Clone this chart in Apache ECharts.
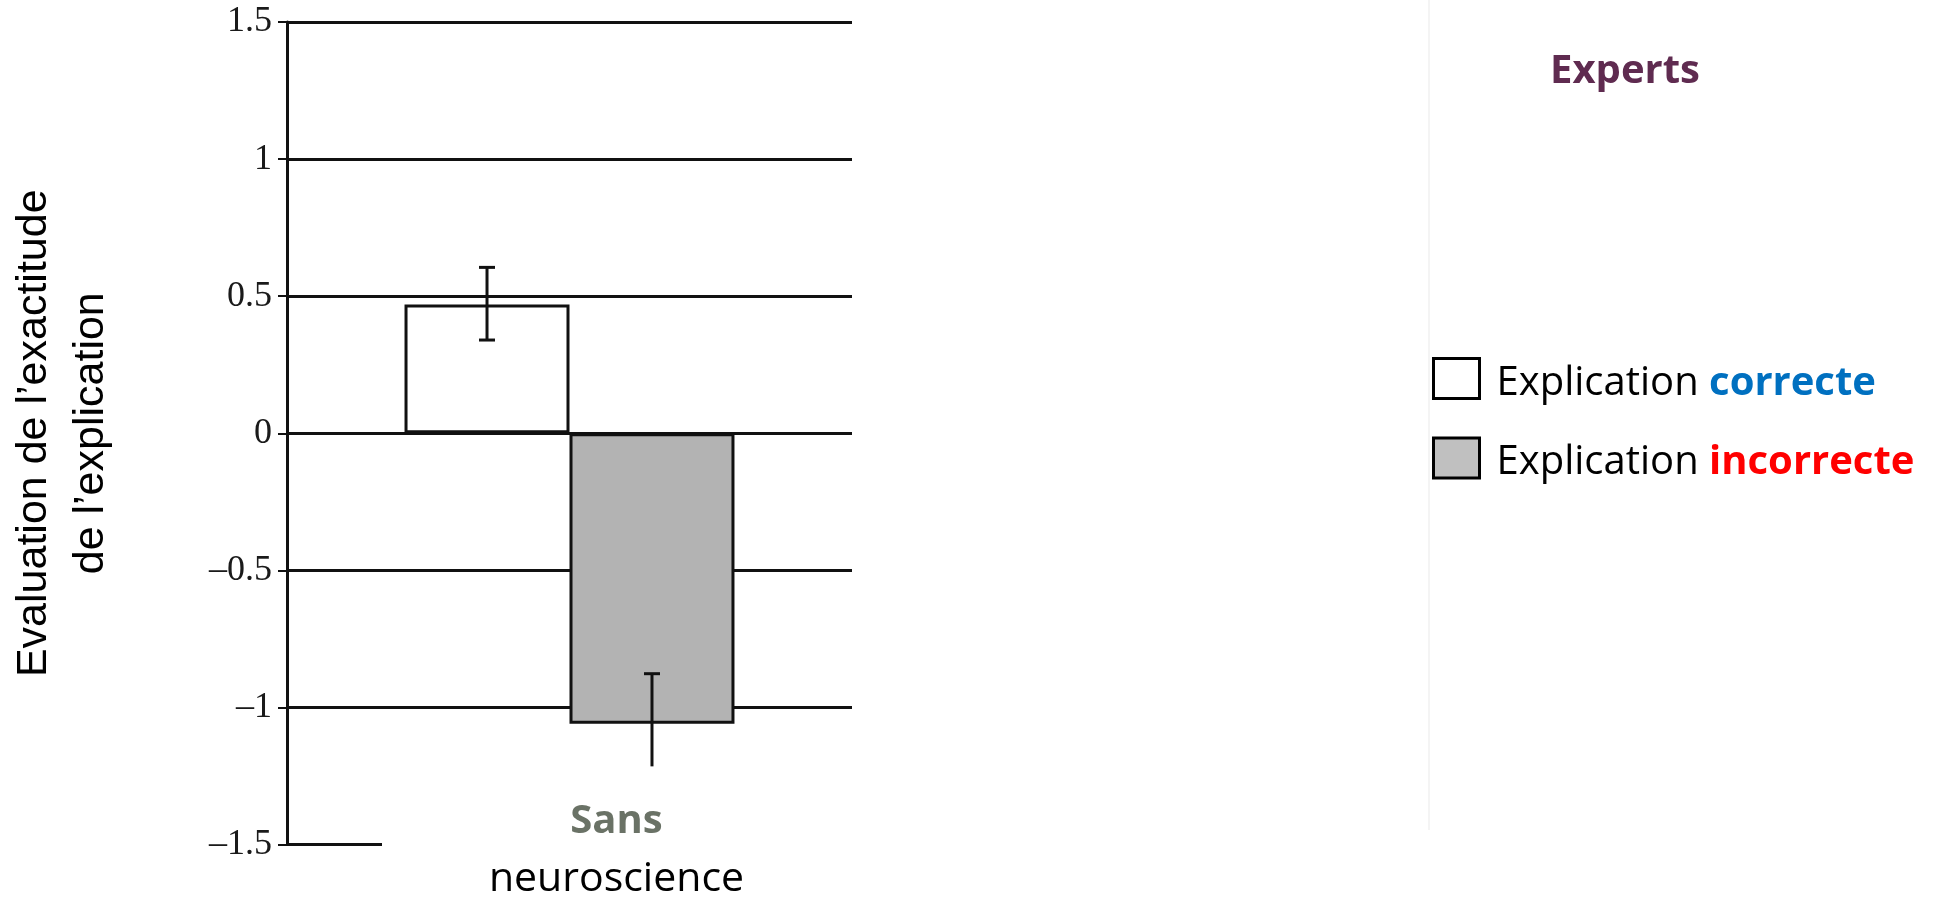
<!DOCTYPE html>
<html>
<head>
<meta charset="utf-8">
<script src="https://cdn.jsdelivr.net/npm/echarts@6/dist/echarts.min.js"></script>
<style>
  html, body { margin: 0; padding: 0; background: #fff; }
  #chart { width: 1936px; height: 900px; }
</style>
</head>
<body>
<div id="chart"></div>
<script>
// values
const categories = ["Sans neuroscience"];
const seriesNames = ["Explication correcte", "Explication incorrecte"];
const correcteValues = [0.47];
const incorrecteValues = [-1.06];
// error bars: [low, high]
const correcteErr = [[0.34, 0.605]];
const incorrecteErr = [[-1.215, -0.877]];
const yTicks = [-1.5, -1, -0.5, 0, 0.5, 1, 1.5];

const GRID_LEFT = 287;
const BAR_FRAC = 0.292;
const SANS = "'Open Sans', 'Noto Sans', sans-serif";

const chart = echarts.init(document.getElementById("chart"));

const errData = [];
correcteErr.forEach((e, i) => errData.push([i, e[0], e[1], 0]));
incorrecteErr.forEach((e, i) => errData.push([i, e[0], e[1], 1]));

function renderErr(params, api) {
  const cat = api.value(0);
  const lo = api.value(1);
  const hi = api.value(2);
  const which = api.value(3);
  const band = api.size([1, 0])[0];
  const barW = band * BAR_FRAC;
  const x = api.coord([cat, 0])[0] + (which === 0 ? -barW / 2 : barW / 2);
  const yLo = api.coord([cat, lo])[1];
  const yHi = api.coord([cat, hi])[1];
  const cap = 8;
  const style = { stroke: "#111", lineWidth: 3 };
  const kids = [
    { type: "line", shape: { x1: x, y1: yHi, x2: x, y2: yLo }, style },
    { type: "line", shape: { x1: x - cap, y1: yHi, x2: x + cap, y2: yHi }, style }
  ];
  // lower cap of the negative bar is hidden in the original
  if (which === 0) {
    kids.push({ type: "line", shape: { x1: x - cap, y1: yLo, x2: x + cap, y2: yLo }, style });
  }
  return { type: "group", children: kids };
}

const option = {
  backgroundColor: "#fff",
  animation: false,
  title: {
    text: "Experts",
    left: 1620,
    top: 47,
    textAlign: "center",
    textStyle: { fontFamily: SANS, fontSize: 40, fontWeight: "bold", color: "#5f2b50" }
  },
  legend: {
    orient: "vertical",
    left: 1432,
    top: 357,
    padding: 0,
    itemWidth: 46,
    itemHeight: 40,
    itemGap: 33,
    icon: "rect",
    itemStyle: { borderColor: "#000", borderWidth: 3 },
    data: [
      { name: seriesNames[0], itemStyle: { color: "#fff" } },
      { name: seriesNames[1], itemStyle: { color: "#c0c0c0" } }
    ],
    formatter: (name) => {
      const parts = name.split(" ");
      const key = name === seriesNames[0] ? "c" : "i";
      return parts[0] + " {" + key + "|" + parts[1] + "}";
    },
    textStyle: {
      fontFamily: SANS,
      fontSize: 40,
      lineHeight: 30,
      color: "#000",
      padding: [10, 0, 0, 12],
      rich: {
        c: { fontFamily: SANS, fontSize: 40, lineHeight: 30, fontWeight: "bold", color: "#0070c0" },
        i: { fontFamily: SANS, fontSize: 40, lineHeight: 30, fontWeight: "bold", color: "#ff0000" }
      }
    }
  },
  grid: { left: GRID_LEFT, right: 1084, top: 22, bottom: 55 },
  xAxis: {
    type: "category",
    data: categories,
    axisLine: { show: false },
    axisTick: { show: false },
    splitLine: { show: false },
    axisLabel: {
      margin: -52,
      interval: 0,
      formatter: (v) => {
        const k = v.indexOf(" ");
        return "{b|" + v.slice(0, k) + "}\n{n|" + v.slice(k + 1) + "}";
      },
      rich: {
        b: { fontFamily: SANS, fontSize: 40, fontWeight: "bold", color: "#6a7266", lineHeight: 58, padding: [0, 0, 0, 94] },
        n: { fontFamily: SANS, fontSize: 41, color: "#000", lineHeight: 58, padding: [0, 0, 0, 94] }
      }
    }
  },
  yAxis: {
    type: "value",
    min: yTicks[0],
    max: yTicks[yTicks.length - 1],
    interval: 0.5,
    name: "Evaluation de l\u2019exactitude\nde l\u2019explication",
    nameLocation: "middle",
    nameGap: 167,
    nameTextStyle: { fontFamily: "'Liberation Sans', Arial, sans-serif", fontSize: 43, lineHeight: 57, color: "#000" },
    axisLine: { show: true, lineStyle: { color: "#111", width: 3 } },
    axisTick: { show: true, length: 9, lineStyle: { color: "#111", width: 2 } },
    axisLabel: {
      margin: 15,
      fontFamily: "'Liberation Serif', 'Times New Roman', serif",
      fontSize: 36,
      color: "#1a1a1a",
      formatter: (v) => (v < 0 ? "\u2013" + Math.abs(v) : String(v))
    },
    splitLine: {
      show: true,
      lineStyle: {
        width: 3,
        color: ["rgba(0,0,0,0)", "#111", "#111", "#111", "#111", "#111", "#111"]
      }
    }
  },
  series: [
    {
      name: seriesNames[0],
      type: "bar",
      data: correcteValues,
      barWidth: (BAR_FRAC * 100) + "%",
      barGap: "0%",
      itemStyle: { color: "#fff", borderColor: "#111", borderWidth: 3 },
      z: 3
    },
    {
      name: seriesNames[1],
      type: "bar",
      data: incorrecteValues,
      barWidth: (BAR_FRAC * 100) + "%",
      barGap: "0%",
      itemStyle: { color: "#b3b3b3", borderColor: "#111", borderWidth: 3 },
      z: 3
    },
    {
      type: "custom",
      data: errData,
      renderItem: renderErr,
      z: 5,
      silent: true
    }
  ]
};

chart.setOption(option);

// short stub of the bottom gridline at -1.5, and the faint panel edge
const yMin = chart.convertToPixel({ yAxisIndex: 0 }, yTicks[0]);
chart.setOption({
  graphic: [
    { type: "line", shape: { x1: GRID_LEFT, y1: yMin, x2: GRID_LEFT + 95, y2: yMin }, style: { stroke: "#111", lineWidth: 3 }, z: 10 },
    { type: "line", shape: { x1: 1429, y1: 0, x2: 1429, y2: 830 }, style: { stroke: "#f4f4f4", lineWidth: 2 }, z: 0 }
  ]
});
</script>
</body>
</html>
